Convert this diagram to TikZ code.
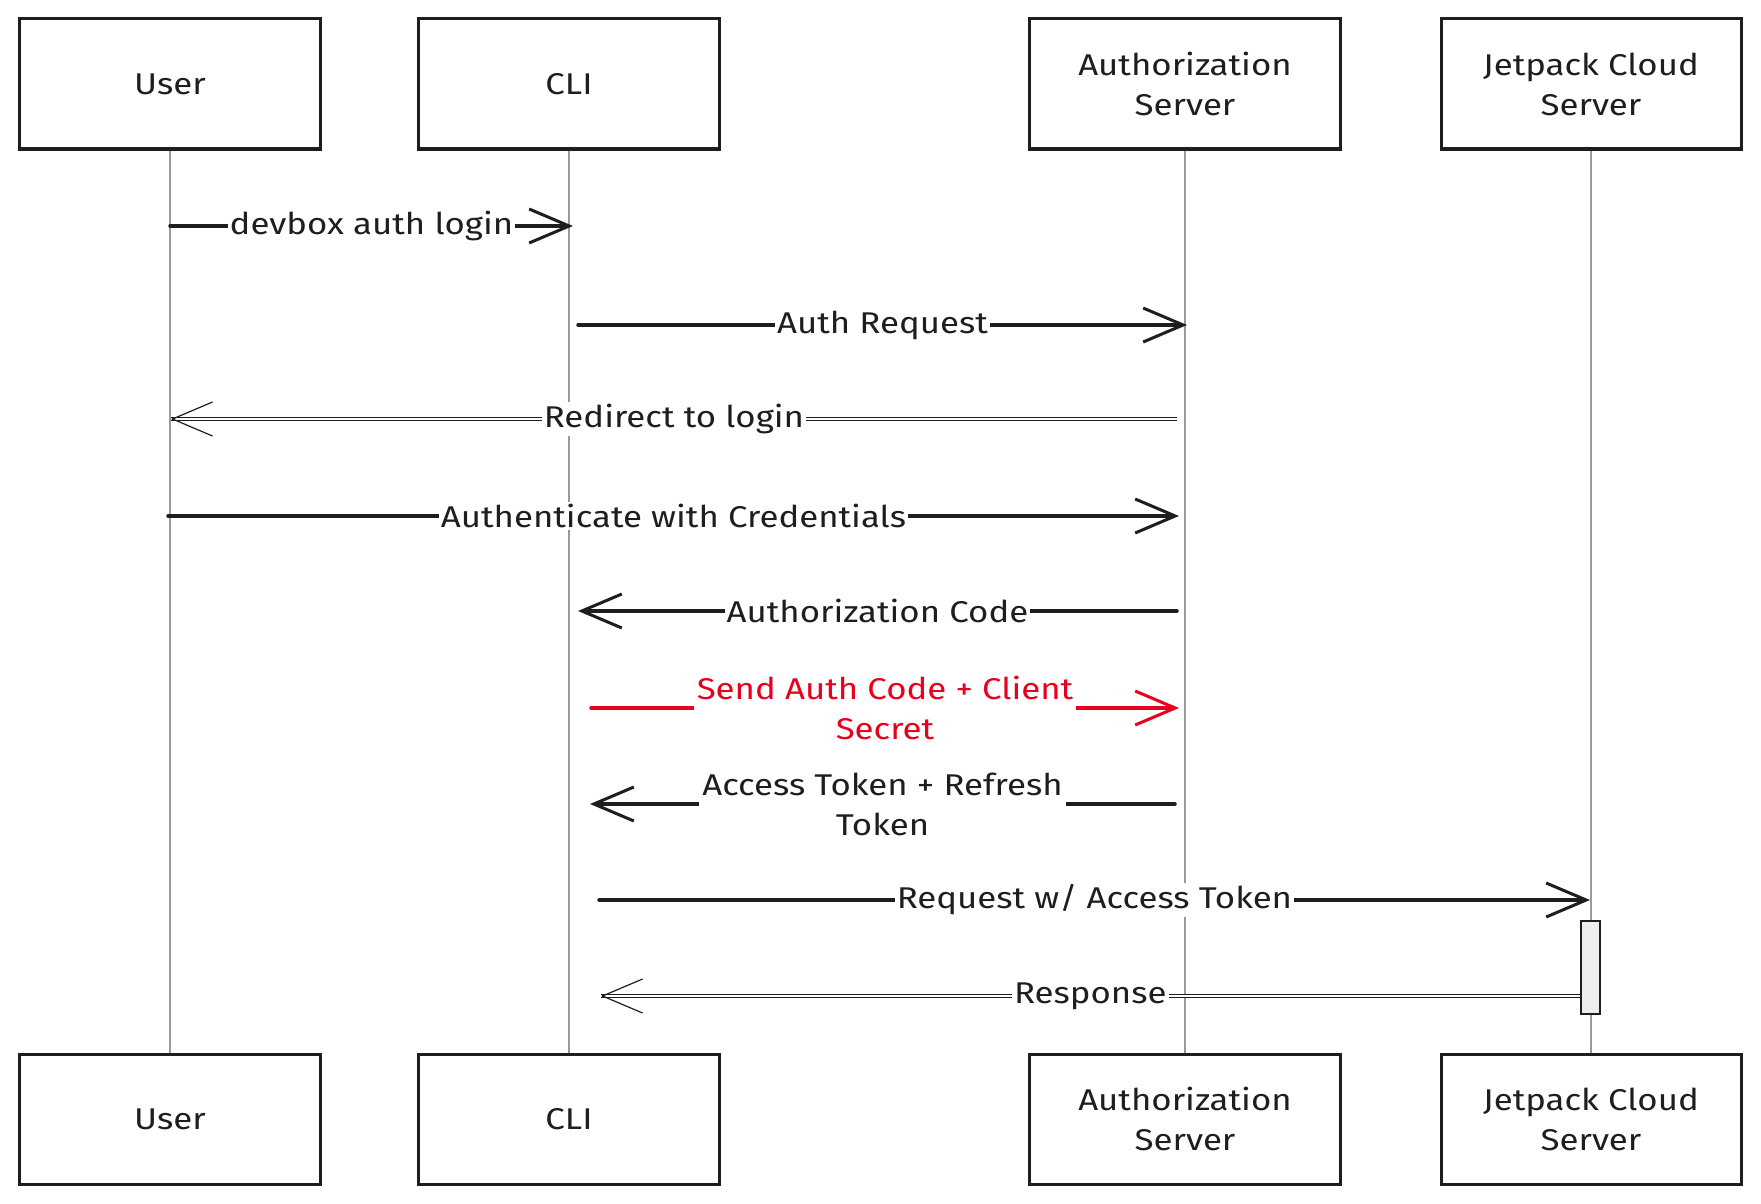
\documentclass[tikz,border=0pt]{standalone}
\usepackage{fontspec}
\setmainfont{Fira Sans}[FakeStretch=1.16]
\usetikzlibrary{arrows.meta}
\definecolor{ink}{HTML}{1E1E1E}
\definecolor{redink}{HTML}{E8001C}
\definecolor{lifegray}{HTML}{9A9A9A}
\definecolor{actfill}{HTML}{EDEDED}
\begin{document}
\begin{tikzpicture}[x=1pt,y=-1pt,
  actor/.style={draw=ink, line width=3pt, fill=white, minimum height=130pt,
    align=center, inner sep=4pt, text=ink, font=\fontsize{30}{40}\selectfont},
  life/.style={draw=lifegray, line width=1.2pt},
  msg/.style={draw=ink, line width=3.5pt, line cap=round,
    -{Straight Barb[length=40pt,width=34pt,line width=3pt]}},
  redmsg/.style={msg, draw=redink},
  dline/.style={draw=ink, line width=0.9pt, double=white, double distance=2.2pt},
  dtip/.style={draw=ink, line width=1.2pt,
    -{Straight Barb[length=40pt,width=34pt,line width=1.2pt]}},
  lbl/.style={fill=white, inner sep=2pt, text=ink, align=center,
    font=\fontsize{30}{40}\selectfont},
  act/.style={draw=ink, line width=2.5pt, fill=actfill, minimum width=19pt,
    minimum height=93pt, inner sep=0pt}]
\useasboundingbox (0,0) rectangle (1761,1204);

% actors
\node[actor, minimum width=301pt] (uT) at (170,84) {User};
\node[actor, minimum width=301pt] (cT) at (569,84) {CLI};
\node[actor, minimum width=311pt] (aT) at (1185,84) {Authorization\\Server};
\node[actor, minimum width=300pt] (jT) at (1591,84) {Jetpack Cloud\\Server};
\node[actor, minimum width=301pt] (uB) at (170,1119) {User};
\node[actor, minimum width=301pt] (cB) at (569,1119) {CLI};
\node[actor, minimum width=311pt] (aB) at (1185,1119) {Authorization\\Server};
\node[actor, minimum width=300pt] (jB) at (1591,1119) {Jetpack Cloud\\Server};

% lifelines
\draw[life] (uT.south) -- (uB.north);
\draw[life] (cT.south) -- (cB.north);
\draw[life] (aT.south) -- (aB.north);
\draw[life] (jT.south) -- (jB.north);

% activation
\node[act] (jA) at (1590.5,967.5) {};

% message end points
\coordinate (m1s) at (170,226);  \coordinate (m1e) at (573,226);
\coordinate (m2s) at (578,325);  \coordinate (m2e) at (1187,325);
\coordinate (m3s) at (1177,419); \coordinate (m3e) at (171,419);
\coordinate (m4s) at (168,516);  \coordinate (m4e) at (1179,516);
\coordinate (m5s) at (1177,611); \coordinate (m5e) at (578,611);
\coordinate (m6s) at (591,708);  \coordinate (m6e) at (1179,708);
\coordinate (m7s) at (1175,804); \coordinate (m7e) at (590,804);
\coordinate (m8s) at (599,900);  \coordinate (m8e) at (1590,900);
\coordinate (m9s) at (jA.west |- 0,996); \coordinate (m9e) at (601,996);

% messages
\draw[msg] (m1s) -- node[lbl] {devbox auth login} (m1e);
\draw[msg] (m2s) -- node[lbl] {Auth Request} (m2e);
\draw[dline] (m3s) -- node[lbl] {Redirect to login} (m3e);
\draw[dtip] ([xshift=1pt]m3e) -- (m3e);
\draw[msg] (m4s) -- node[lbl] {Authenticate with Credentials} (m4e);
\draw[msg] (m5s) -- node[lbl] {Authorization Code} (m5e);
\draw[redmsg] (m6s) -- node[lbl, text=redink, inner xsep=3pt] {Send Auth Code + Client\\Secret} (m6e);
\draw[msg] (m7s) -- node[lbl, inner xsep=3pt] {Access Token + Refresh\\Token} (m7e);
\draw[msg] (m8s) -- node[lbl] {Request w/ Access Token} (m8e);
\draw[dline] (m9s) -- node[lbl] {Response} (m9e);
\draw[dtip] ([xshift=1pt]m9e) -- (m9e);
\end{tikzpicture}
\end{document}
